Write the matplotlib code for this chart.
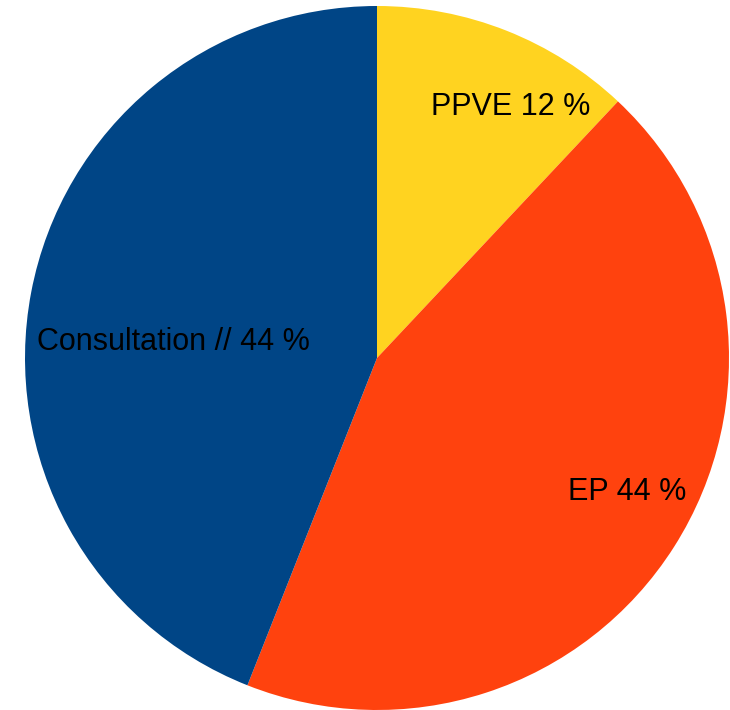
import matplotlib
matplotlib.use("Agg")
import matplotlib.pyplot as plt
import numpy as np

# data
labels = ["PPVE 12 %", "EP 44 %", "Consultation // 44 %"]
shares = [12, 44, 44]
colors = ["#FFD320", "#FF420E", "#004586"]

# label placement (radius fraction, angle in degrees) - as LibreOffice puts them
label_pos = [(0.806, 62.0), (0.806, -28.2), (0.579, 175.5)]

fig = plt.figure(figsize=(7.3, 7.1), dpi=100)
ax = fig.add_axes([0, 0, 1, 1])

wedges, _ = ax.pie(shares, colors=colors, startangle=90, counterclock=False,
                   radius=1.0, wedgeprops=dict(linewidth=0))

for lab, (r, ang) in zip(labels, label_pos):
    a = np.deg2rad(ang)
    ax.text(r * np.cos(a), r * np.sin(a), lab, ha="center", va="center",
            fontsize=22, family="Liberation Sans", color="black")

# center at (377, 358) px, radius 352 px
scale = 352.0
ax.set_xlim(-377 / scale, (730 - 377) / scale)
ax.set_ylim(-(710 - 358) / scale, 358 / scale)
ax.set_aspect("auto")
ax.axis("off")

fig.savefig("out.png", dpi=100, facecolor="white")
